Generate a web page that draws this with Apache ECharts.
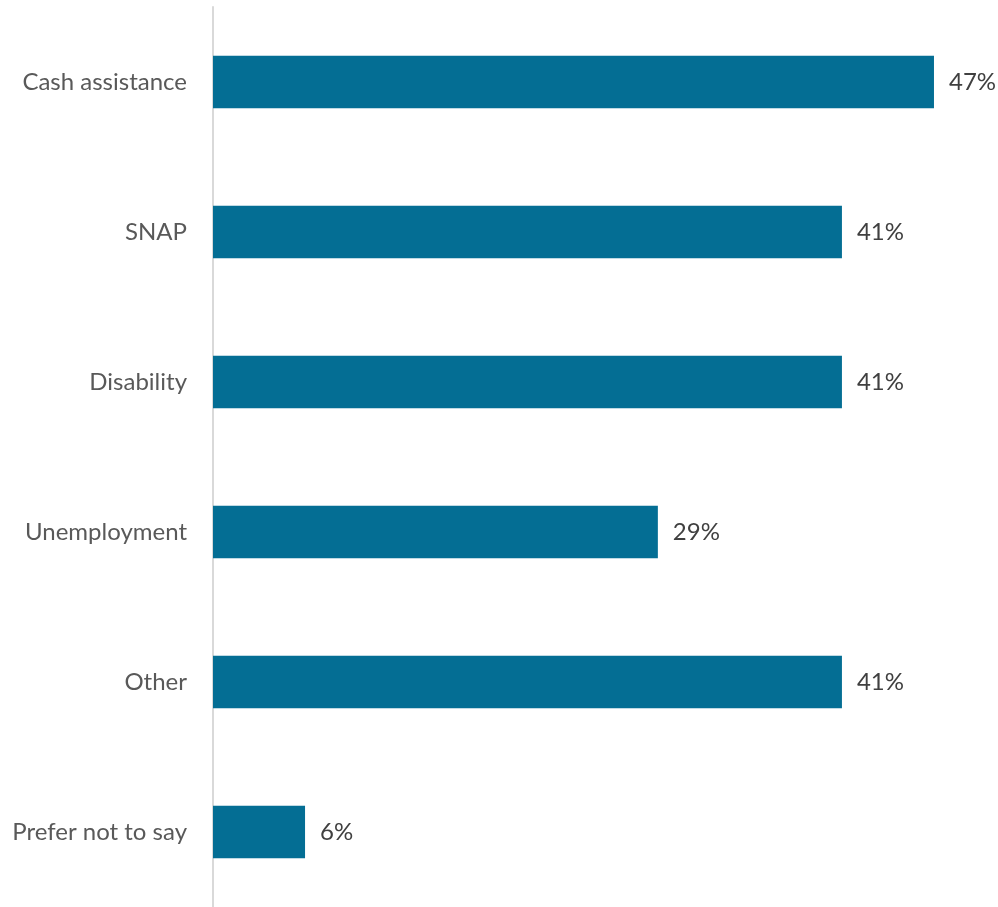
<!DOCTYPE html>
<html>
<head>
<meta charset="utf-8">
<script src="https://cdn.jsdelivr.net/npm/echarts@6/dist/echarts.min.js"></script>
<style>
  html, body { margin: 0; padding: 0; background: #ffffff; }
  #chart { width: 998px; height: 907px; }
</style>
</head>
<body>
<div id="chart"></div>
<script>
// Benefit types and the share of respondents receiving each
const categories = ['Cash assistance', 'SNAP', 'Disability', 'Unemployment', 'Other', 'Prefer not to say'];
const shares = [47, 41, 41, 29, 41, 6];

const chart = echarts.init(document.getElementById('chart'));
chart.setOption({
  animation: false,
  grid: { left: 213, right: 18, top: 7, bottom: 0, containLabel: false },
  xAxis: {
    type: 'value',
    min: 0,
    max: 50,
    show: false
  },
  yAxis: {
    type: 'category',
    data: categories,
    inverse: true,
    axisLine: { show: true, lineStyle: { color: '#d9d9d9', width: 2 } },
    axisTick: { show: false },
    axisLabel: {
      color: '#595959',
      fontFamily: 'Lato',
      fontSize: 24,
      margin: 26
    }
  },
  series: [{
    type: 'bar',
    data: shares,
    barWidth: '35%',
    itemStyle: { color: '#046e94' },
    label: {
      show: true,
      position: 'right',
      distance: 15,
      formatter: p => p.value + '%',
      color: '#404040',
      fontFamily: 'Lato',
      fontSize: 24
    }
  }]
});
</script>
</body>
</html>
